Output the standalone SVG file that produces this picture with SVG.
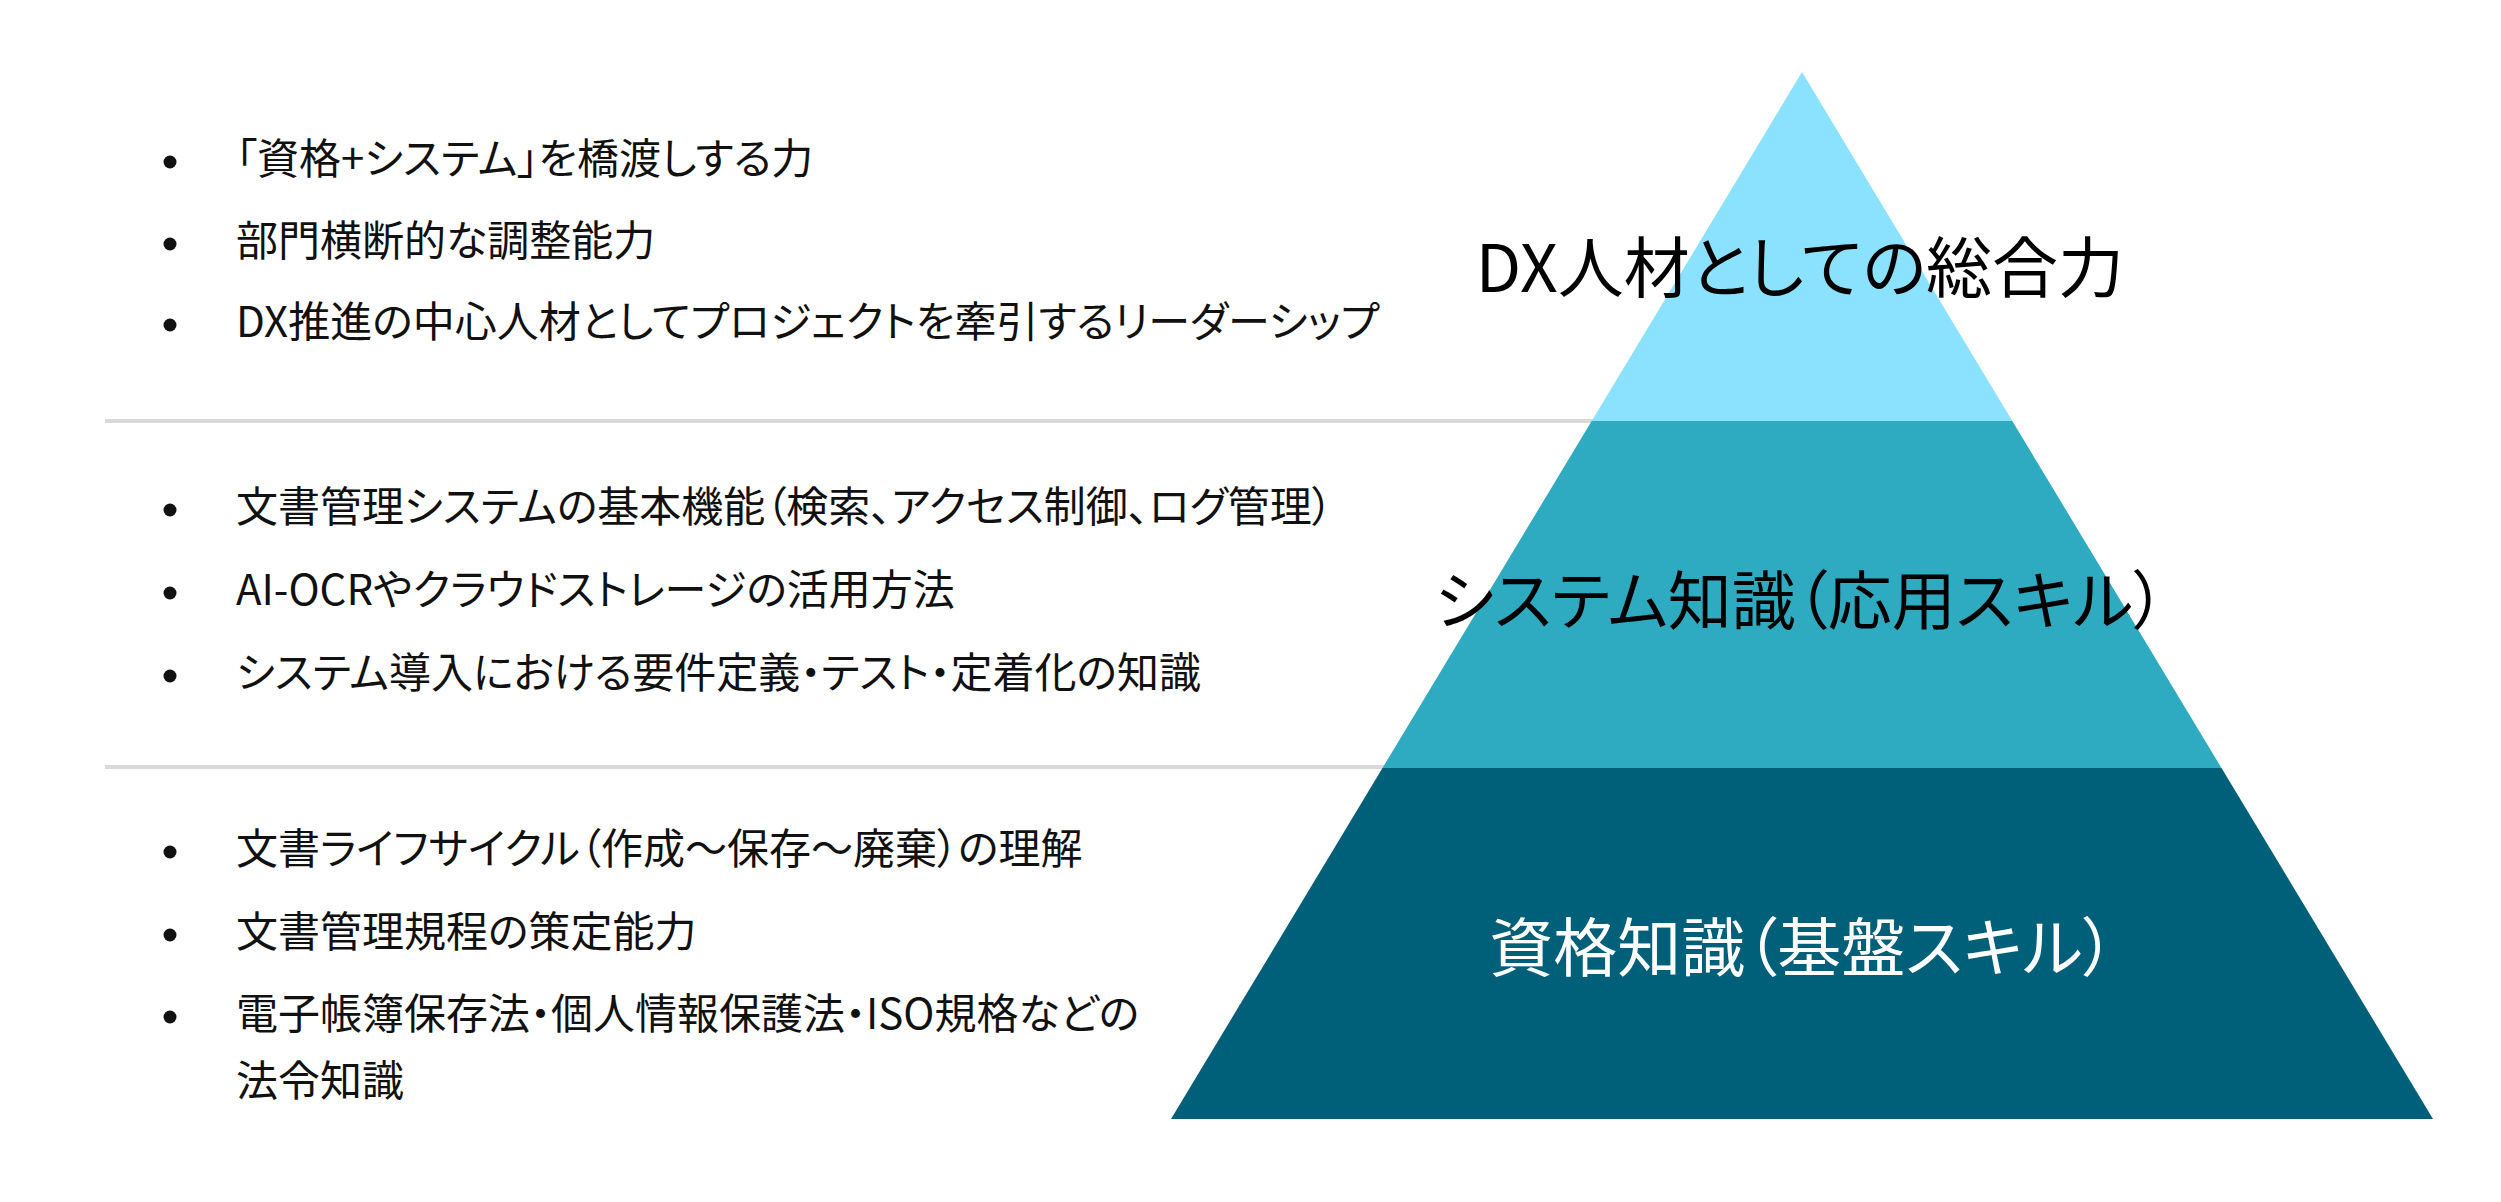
<svg xmlns="http://www.w3.org/2000/svg" width="2501" height="1202" viewBox="0 0 2501 1202">
<style>
.t{font-family:"Noto Sans CJK JP","Noto Sans",sans-serif;font-size:42px;fill:#111;font-feature-settings:"palt";}
.lbl{font-family:"Noto Sans CJK JP","Noto Sans",sans-serif;font-size:64px;text-anchor:middle;font-feature-settings:"palt";}
.sep{stroke:#D9D9D9;stroke-width:4;}
.b{fill:#111;}
</style>
<rect width="2501" height="1202" fill="#FFFFFF"/>
<g id="separators">
<line class="sep" x1="105" y1="421" x2="1593" y2="421"/>
<line class="sep" x1="105" y1="767" x2="1384" y2="767"/>
</g>
<g id="tier-top">
<polygon points="1802,72 2012.3,421 1591.7,421" fill="#8AE2FE"/>
<text class="lbl" x="1800" y="292" fill="#000" style="font-size:66px">DX人材としての総合力</text>
</g>
<g id="tier-middle">
<polygon points="1591.7,421 2012.3,421 2221.5,768 1382.5,768" fill="#2EAAC1"/>
<text class="lbl" x="1800" y="624" fill="#000">システム知識（応用スキル）</text>
</g>
<g id="tier-bottom">
<polygon points="1382.5,768 2221.5,768 2433,1119 1171,1119" fill="#005F79"/>
<text class="lbl" x="1802" y="971" fill="#FFFFFF">資格知識（基盤スキル）</text>
</g>
<g id="list-top">
<circle class="b" cx="170" cy="162" r="6.5"/>
<text class="t" x="236" y="174">「資格+システム」を橋渡しする力</text>
<circle class="b" cx="170" cy="244" r="6.5"/>
<text class="t" x="236" y="256">部門横断的な調整能力</text>
<circle class="b" cx="170" cy="325" r="6.5"/>
<text class="t" x="236" y="337">DX推進の中心人材としてプロジェクトを牽引するリーダーシップ</text>
</g>
<g id="list-middle">
<circle class="b" cx="170" cy="510" r="6.5"/>
<text class="t" x="236" y="522">文書管理システムの基本機能（検索、アクセス制御、ログ管理）</text>
<circle class="b" cx="170" cy="593" r="6.5"/>
<text class="t" x="236" y="605">AI-OCRやクラウドストレージの活用方法</text>
<circle class="b" cx="170" cy="676" r="6.5"/>
<text class="t" x="236" y="688">システム導入における要件定義・テスト・定着化の知識</text>
</g>
<g id="list-bottom">
<circle class="b" cx="170" cy="852" r="6.5"/>
<text class="t" x="236" y="864">文書ライフサイクル（作成～保存～廃棄）の理解</text>
<circle class="b" cx="170" cy="935" r="6.5"/>
<text class="t" x="236" y="947">文書管理規程の策定能力</text>
<circle class="b" cx="170" cy="1017" r="6.5"/>
<text class="t" x="236" y="1029">電子帳簿保存法・個人情報保護法・ISO規格などの</text>
<text class="t" x="236" y="1096">法令知識</text>
</g>
</svg>
